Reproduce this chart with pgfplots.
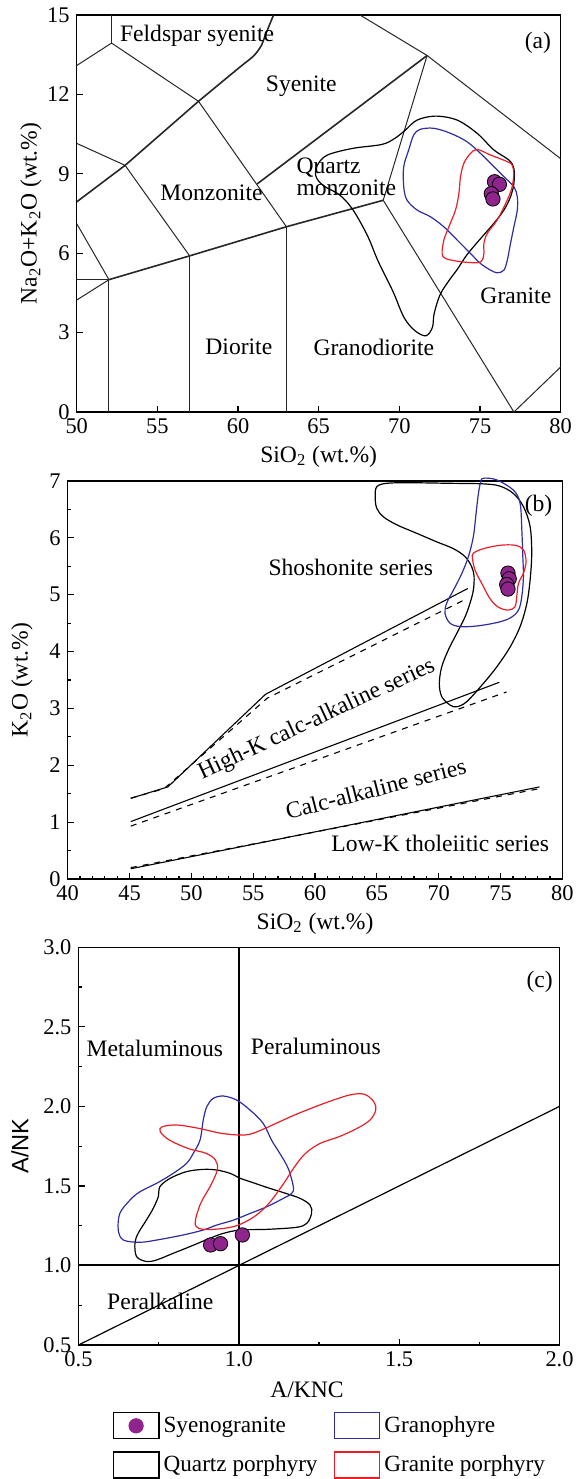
\documentclass[border=0pt]{standalone}
\usepackage{fontspec}
\setmainfont{Liberation Serif}
\newfontfamily\arialfont{Liberation Sans}
\usepackage{pgfplots}
\pgfplotsset{compat=1.18}
\definecolor{cblue}{RGB}{45,45,160}
\definecolor{cred}{RGB}{235,30,40}
\definecolor{cpurp}{RGB}{142,36,140}
\pgfplotsset{
  every axis/.append style={
    scale only axis,
    axis line style={line width=0.7pt},
    tick align=inside,
    xtick pos=left, ytick pos=left,
    major tick length=3pt, minor tick length=1.6pt,
    every tick/.style={black, line width=0.6pt},
    tick label style={font=\fontsize{11.2}{12}\selectfont},
    label style={font=\fontsize{11.8}{13}\selectfont},
    /pgf/number format/assume math mode=true,
  },
  tas/.style={black!85, line width=0.5pt},
  tasb/.style={black!85, line width=0.8pt},
  cont/.style={line width=0.6pt, smooth cycle, tension=0.55},
  syn/.style={only marks, mark=*, mark size=3.6pt, mark options={draw=none, fill=cpurp}},
}
\begin{document}
\begin{tikzpicture}[font=\fontsize{11.8}{13}\selectfont]
\path[use as bounding box] (0pt,0pt) rectangle (288.5pt,-739.5pt);
% ---------------- (a) ----------------
\begin{axis}[
  at={(38.35pt,-206pt)}, anchor=south west,
  width=242pt, height=198.5pt,
  xmin=50, xmax=80, ymin=0, ymax=15,
  xtick={50,55,...,80}, ytick={0,3,...,15},
  xlabel={SiO\textsubscript{2} (wt.\%)},
  ylabel={Na\textsubscript{2}O+K\textsubscript{2}O (wt.\%)},
  xlabel style={at={(axis description cs:0.5,0)}, anchor=center, yshift=-22.3pt},
  ylabel style={at={(axis description cs:-0.0944,0.5)}, anchor=center},
]
\addplot[tas] coordinates {(50,5) (52,5)};
\addplot[tas] coordinates {(52,0) (52,5)};
\addplot[tas] coordinates {(50,7.12) (52,5)};
\addplot[tas] coordinates {(50,4.23) (52,5)};
\addplot[tasb] coordinates {(52,5) (57,5.9) (63,7) (69,8)};
\addplot[tas] coordinates {(57,0) (57,5.9)};
\addplot[tas] coordinates {(63,0) (63,7)};
\addplot[tas] coordinates {(69,8) (77.1,0) (80,1.7)};
\addplot[tas] coordinates {(69,8) (71.72,13.47)};
\addplot[tasb] coordinates {(61.19,8.62) (71.72,13.47)};
\addplot[tas] coordinates {(67.56,15) (71.72,13.47) (80,9.57)};
\addplot[tas] coordinates {(63,7) (57.55,11.74)};
\addplot[tasb] coordinates {(57.55,11.74) (53,9.32) (50,7.94)};
\addplot[tas] coordinates {(53,9.32) (57,5.9)};
\addplot[tas] coordinates {(50,10.15) (53,9.32)};
\addplot[tas] coordinates {(57.55,11.74) (52.16,13.94) (50,13.09)};
\addplot[tas] coordinates {(52.16,13.94) (52.16,15)};
\addplot[tasb, smooth, tension=0.5] coordinates {(57.55,11.74) (60.05,13.0) (60.96,13.45) (61.45,13.85) (61.7,14.25) (62.2,15)};
% contours
\addplot[cont, black] coordinates {(72.24,11.18) (73.58,11.03) (74.82,10.53) (75.86,9.90) (76.79,9.52) (77.10,9.2) (77.10,8.64) (76.89,8.13) (76.48,7.63) (75.86,7.13) (75.03,6.55) (74.2,5.95) (73.6,5.4) (73.0,4.9) (72.5,4.4) (72.15,3.7) (72.05,3.2) (71.65,2.88) (70.97,3.07) (70.29,3.57) (69.60,4.56) (68.69,5.69) (68.01,6.68) (67.10,7.66) (66.3,8.2) (65.3,8.55) (64.83,8.9) (64.9,9.3) (65.51,9.70) (67.10,9.96) (68.92,10.11) (69.72,10.34) (70.37,10.65) (71.10,11.03)};
\addplot[cont, cblue] coordinates {(71.30,10.68) (72.13,10.72) (73.17,10.53) (74.20,10.21) (75.03,9.77) (75.65,9.40) (76.48,8.89) (77.10,8.51) (77.31,8.13) (77.31,7.63) (77.10,7.00) (76.89,6.37) (76.69,5.74) (76.48,5.36) (76.07,5.26) (75.65,5.36) (75.03,5.61) (74.41,5.99) (73.58,6.50) (72.75,7.0) (71.92,7.38) (71.10,7.63) (70.47,8.01) (70.27,8.51) (70.27,9.27) (70.58,9.90) (70.89,10.47)};
\addplot[cont, cred] coordinates {(74.83,9.92) (75.65,9.71) (76.69,9.46) (76.99,9.33) (77.09,9.02) (76.99,8.51) (76.69,8.01) (76.07,7.26) (75.45,6.75) (75.24,6.37) (75.24,6.0) (75.14,5.74) (74.83,5.64) (73.79,5.68) (72.86,5.80) (72.65,6.0) (72.76,6.50) (73.07,7.0) (73.48,7.63) (73.69,8.26) (73.79,8.89) (74.0,9.40) (74.41,9.77)};
\addplot[syn] coordinates {(75.9,8.7) (76.2,8.6) (75.7,8.25) (75.8,8.05)};
\node at (axis cs:57.46,14.23) {Feldspar syenite};
\node at (axis cs:63.92,12.32) {Syenite};
\node at (axis cs:58.35,8.30) {Monzonite};
\node[anchor=west, align=left, inner sep=0pt] at (axis cs:63.6,8.9) {Quartz\\[-2pt]monzonite};
\node at (axis cs:60.05,2.48) {Diorite};
\node at (axis cs:68.42,2.44) {Granodiorite};
\node at (axis cs:77.22,4.38) {Granite};
\node at (axis cs:78.59,13.95) {(a)};
\end{axis}
% ---------------- (b) ----------------
\begin{axis}[
  at={(33.85pt,-439.5pt)}, anchor=south west,
  width=247.35pt, height=199pt,
  xmin=40, xmax=80, ymin=0, ymax=7, clip=false,
  xtick={40,45,...,80}, ytick={0,1,...,7},
  minor x tick num=4, minor y tick num=1,
  ylabel={K\textsubscript{2}O (wt.\%)},
  ylabel style={at={(axis description cs:-0.0924,0.5)}, anchor=center},
]
\addplot[black, line width=0.55pt] coordinates {(45.1,1.42) (48.1,1.62) (56.0,3.25) (72.35,5.11)};
\addplot[black, line width=0.55pt, dashed] coordinates {(45.1,1.42) (47.8,1.59) (56.13,3.18) (72.35,4.94)};
\addplot[black, line width=0.55pt] coordinates {(45.1,1.01) (74.9,3.46)};
\addplot[black, line width=0.55pt, dashed] coordinates {(45.1,0.93) (75.48,3.29)};
\addplot[black, line width=0.55pt] coordinates {(45.1,0.18) (78.15,1.62)};
\addplot[black, line width=0.55pt, dashed] coordinates {(45.1,0.20) (78.15,1.59)};
\addplot[cont, black] coordinates {(64.99,6.90) (64.86,6.72) (64.99,6.52) (65.53,6.37) (66.61,6.23) (68.23,6.08) (69.84,5.93) (71.19,5.81) (72.13,5.67) (72.67,5.49) (72.86,5.32) (72.80,5.08) (72.53,4.85) (72.13,4.61) (71.46,4.32) (70.78,4.03) (70.24,3.73) (70.05,3.44) (70.24,3.21) (70.91,3.06) (71.46,3.03) (72.27,3.12) (73.61,3.44) (74.69,3.73) (75.77,4.08) (76.58,4.44) (77.12,4.84) (77.39,5.26) (77.52,5.73) (77.39,6.20) (76.85,6.55) (76.04,6.78) (74.96,6.91) (73.61,6.95) (70.91,6.96) (67.68,6.97) (65.80,6.96)};
\addplot[cont, cblue] coordinates {(73.61,7.05) (74.69,7.02) (76.04,6.84) (76.58,6.61) (76.72,6.14) (76.80,5.67) (76.85,5.32) (76.72,4.97) (76.45,4.73) (75.77,4.59) (74.69,4.51) (73.07,4.45) (71.73,4.44) (70.91,4.50) (70.51,4.67) (70.64,4.85) (71.19,5.08) (71.86,5.37) (72.40,5.67) (72.80,6.02) (73.02,6.43) (73.21,6.78) (73.40,6.99)};
\addplot[cont, cred] coordinates {(72.80,5.73) (73.61,5.81) (74.96,5.87) (76.17,5.87) (76.85,5.79) (77.06,5.58) (76.85,5.38) (76.45,5.20) (76.31,4.97) (76.17,4.79) (75.63,4.73) (74.83,4.78) (74.15,4.93) (73.48,5.20) (72.94,5.43) (72.73,5.64)};
\addplot[syn] coordinates {(75.6,5.38) (75.7,5.28) (75.5,5.18) (75.6,5.1)};
\node at (axis cs:78.07,6.56) {(b)};
\node at (axis cs:62.89,5.48) {Shoshonite series};
\node[rotate=25] at (axis cs:60.15,2.80) {High-K calc-alkaline series};
\node[rotate=14.5] at (axis cs:64.91,1.59) {Calc-alkaline series};
\node at (axis cs:70.12,0.63) {Low-K tholeiitic series};
\node at (axis description cs:0.5,0) [yshift=-22.2pt] {SiO\textsubscript{2} (wt.\%)};
\end{axis}
% ---------------- (c) ----------------
\begin{axis}[
  at={(39.25pt,-672.5pt)}, anchor=south west,
  width=240.5pt, height=198.85pt,
  xmin=0.5, xmax=2.0, ymin=0.5, ymax=3.0,
  xtick={0.5,1.0,1.5,2.0}, ytick={0.5,1.0,...,3.0},
  minor x tick num=1, minor y tick num=1,
  xticklabel style={/pgf/number format/.cd, fixed, fixed zerofill, precision=1},
  yticklabel style={/pgf/number format/.cd, fixed, fixed zerofill, precision=1},
  xlabel={A/KNC},
  ylabel={\arialfont A/NK},
  xlabel style={at={(axis description cs:0.475,0)}, anchor=center, yshift=-22.5pt},
  ylabel style={at={(axis description cs:-0.1216,0.5)}, anchor=center},
  legend columns=2,
  legend cell align=left,
  legend style={draw=none, fill=none, at={(axis description cs:0.0711,-0.169)}, anchor=north west,
    inner sep=0pt, outer sep=0pt, font=\fontsize{11.6}{13}\selectfont,
    /tikz/every even column/.append style={column sep=6pt}, row sep=6pt},
]
\addlegendimage{legend image code/.code={\draw[black, line width=0.6pt] (0pt,-6.5pt) rectangle (22.85pt,6.5pt); \fill[cpurp] (11.4pt,0pt) circle (3.6pt);}}
\addlegendentry{Syenogranite}
\addlegendimage{legend image code/.code={\draw[cblue, line width=0.6pt] (0pt,-6.5pt) rectangle (22.85pt,6.5pt);}}
\addlegendentry{Granophyre}
\addlegendimage{legend image code/.code={\draw[black, line width=0.6pt] (0pt,-6.5pt) rectangle (22.85pt,6.5pt);}}
\addlegendentry{Quartz porphyry}
\addlegendimage{legend image code/.code={\draw[cred, line width=0.6pt] (0pt,-6.5pt) rectangle (22.85pt,6.5pt);}}
\addlegendentry{Granite porphyry}
\addplot[black, line width=1pt, forget plot] coordinates {(1,0.5) (1,3)};
\addplot[black, line width=1pt, forget plot] coordinates {(0.5,1) (2,1)};
\addplot[black, line width=0.6pt, forget plot] coordinates {(0.5,0.5) (2,2)};
\addplot[cont, black, forget plot] coordinates {(0.889,1.604) (0.931,1.600) (0.973,1.579) (1.004,1.548) (1.035,1.527) (1.087,1.491) (1.139,1.458) (1.191,1.422) (1.222,1.380) (1.227,1.328) (1.212,1.265) (1.180,1.240) (1.087,1.227) (1.004,1.223) (0.952,1.202) (0.910,1.171) (0.848,1.119) (0.796,1.077) (0.744,1.035) (0.712,1.025) (0.681,1.056) (0.676,1.140) (0.686,1.202) (0.712,1.286) (0.733,1.359) (0.749,1.433) (0.754,1.496) (0.786,1.548) (0.837,1.590)};
\addplot[cont, cblue, forget plot] coordinates {(0.952,2.065) (0.993,2.040) (1.035,1.977) (1.076,1.893) (1.102,1.788) (1.128,1.704) (1.154,1.610) (1.170,1.495) (1.165,1.453) (1.139,1.422) (1.087,1.369) (1.035,1.327) (0.983,1.285) (0.931,1.254) (0.889,1.223) (0.827,1.192) (0.744,1.160) (0.692,1.146) (0.640,1.160) (0.624,1.223) (0.629,1.328) (0.661,1.412) (0.692,1.464) (0.744,1.517) (0.796,1.580) (0.837,1.642) (0.858,1.705) (0.879,1.788) (0.889,1.914) (0.900,1.998) (0.920,2.050)};
\addplot[cont, cred, forget plot] coordinates {(1.082,1.862) (1.174,1.946) (1.266,2.019) (1.346,2.072) (1.392,2.076) (1.421,2.029) (1.427,1.977) (1.409,1.914) (1.369,1.862) (1.312,1.809) (1.254,1.768) (1.208,1.705) (1.174,1.621) (1.140,1.516) (1.094,1.391) (1.048,1.307) (0.990,1.248) (0.921,1.227) (0.875,1.233) (0.864,1.275) (0.881,1.391) (0.910,1.495) (0.933,1.600) (0.927,1.663) (0.898,1.705) (0.841,1.736) (0.783,1.789) (0.755,1.841) (0.761,1.872) (0.807,1.883) (0.875,1.862) (0.944,1.831) (1.002,1.820) (1.036,1.826)};
\addplot[syn, forget plot] coordinates {(0.912,1.129) (0.943,1.137) (1.011,1.192)};
\node at (axis cs:1.938,2.784) {(c)};
\node at (axis cs:0.738,2.365) {Metaluminous};
\node at (axis cs:1.240,2.375) {Peraluminous};
\node at (axis cs:0.755,0.772) {Peralkaline};
\end{axis}
\end{tikzpicture}
\end{document}
